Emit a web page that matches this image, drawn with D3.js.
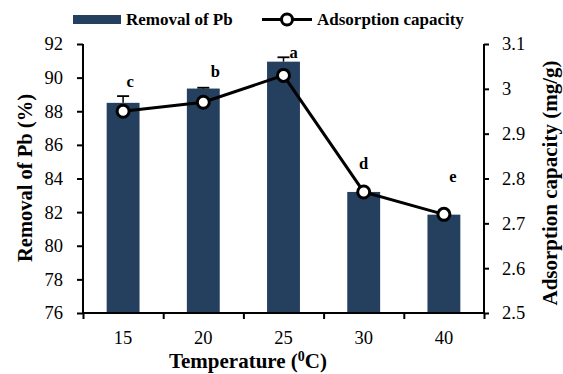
<!DOCTYPE html>
<html><head><meta charset="utf-8">
<script src="https://cdn.jsdelivr.net/npm/d3@7"></script>
<style>body{margin:0;background:#fff}svg{display:block}</style>
</head><body><svg id="c" width="563" height="374"></svg>
<script>
const categories = ["15","20","25","30","40"];
const removal = [88.5, 89.35, 90.95, 83.2, 81.85];
const removalErr = [0.4, 0.05, 0.26, 0, 0];
const capacity = [2.95, 2.97, 3.03, 2.77, 2.72];
const letters = ["c","b","a","d","e"];
const leftTicks = [76,78,80,82,84,86,88,90,92];
const rightTicks = [2.5,2.6,2.7,2.8,2.9,3.0,3.1];

const svg = d3.select("#c");
const L = 83, R = 484, T = 44, B = 313;
const x = d3.scaleBand().domain(categories).range([L, R]).paddingInner(0).paddingOuter(0);
const yL = d3.scaleLinear().domain([76, 92]).range([B, T]);
const yR = d3.scaleLinear().domain([2.5, 3.1]).range([B, T]);
const barW = x.bandwidth() * 0.41;
const col = "#253F5F";

svg.selectAll("rect.bar").data(removal).join("rect").attr("class","bar")
  .attr("x",(d,i)=>x(categories[i]) + x.bandwidth()/2 - barW/2)
  .attr("width",barW)
  .attr("y",d=>yL(d)).attr("height",d=>B - yL(d)).attr("fill",col);

removal.forEach((d,i)=>{
  if(!removalErr[i]) return;
  const cx = x(categories[i]) + x.bandwidth()/2;
  svg.append("line").attr("x1",cx).attr("x2",cx).attr("y1",yL(d)).attr("y2",yL(d+removalErr[i])).attr("stroke","#000").attr("stroke-width",1.5);
  svg.append("line").attr("x1",cx-6).attr("x2",cx+6).attr("y1",yL(d+removalErr[i])).attr("y2",yL(d+removalErr[i])).attr("stroke","#000").attr("stroke-width",1.8);
});

const axL = d3.axisLeft(yL).tickValues(leftTicks).tickSize(6).tickPadding(14).tickFormat(d3.format("d"));
const gL = svg.append("g").attr("transform",`translate(${L},0)`).call(axL);
const axR = d3.axisRight(yR).tickValues(rightTicks).tickSize(5).tickPadding(13).tickFormat(d=> d===3?"3":d3.format(".1f")(d));
const gR = svg.append("g").attr("transform",`translate(${R},0)`).call(axR);
const xb = d3.scaleLinear().domain([0,5]).range([L,R]);
const axB = d3.axisBottom(xb).tickValues([0,1,2,3,4,5]).tickSize(6).tickFormat("");
const gB = svg.append("g").attr("transform",`translate(0,${B})`).call(axB);
[gL,gR,gB].forEach(g=>{
  g.attr("font-size",null).attr("font-family",null);
  g.select(".domain").attr("stroke","#000").attr("stroke-width",2);
  g.selectAll(".tick line").attr("stroke","#000").attr("stroke-width",2);
  g.selectAll("text").attr("fill","#000").attr("font-size",18.5);
});
gL.select(".domain").attr("d",`M0,${T}V${B+1}`);
gR.select(".domain").attr("d",`M0,${T}V${B+1}`);
gB.select(".domain").attr("d",`M${L},0H${R}`);
svg.selectAll("text.xl").data(categories).join("text").attr("class","xl")
  .attr("x",d=>x(d)+x.bandwidth()/2).attr("y",344).attr("text-anchor","middle")
  .attr("font-size",18.5).text(d=>d);

const line = d3.line().x((d,i)=>x(categories[i])+x.bandwidth()/2).y(d=>yR(d));
svg.append("path").datum(capacity).attr("d",line).attr("fill","none").attr("stroke","#000").attr("stroke-width",3);
svg.selectAll("circle.pt").data(capacity).join("circle").attr("class","pt")
  .attr("cx",(d,i)=>x(categories[i])+x.bandwidth()/2).attr("cy",d=>yR(d)).attr("r",6)
  .attr("fill","#fff").attr("stroke","#000").attr("stroke-width",3);

const letterDx = [7, 12, 10, 0, 9];
const letterY = [82, 72, 53, 164, 177];
letters.forEach((t,i)=>{
  svg.append("text").attr("x",x(categories[i])+x.bandwidth()/2+letterDx[i]).attr("y",letterY[i]+5)
    .attr("text-anchor","middle").attr("font-size",16.5).attr("font-weight","bold").text(t);
});

svg.append("text").attr("x",248).attr("y",368).attr("text-anchor","middle")
  .attr("font-size",21).attr("font-weight","bold")
  .html('Temperature (<tspan baseline-shift="super" font-size="14">0</tspan>C)');
svg.append("text").attr("transform","translate(32,178) rotate(-90)").attr("text-anchor","middle")
  .attr("font-size",20.5).attr("font-weight","bold").text("Removal of Pb (%)");
svg.append("text").attr("transform","translate(557,183) rotate(-90)").attr("text-anchor","middle")
  .attr("font-size",21).attr("font-weight","bold").text("Adsorption capacity (mg/g)");

svg.append("rect").attr("x",73).attr("y",15).attr("width",48).attr("height",9).attr("fill",col);
svg.append("text").attr("x",126).attr("y",25).attr("font-size",17).attr("font-weight","bold").text("Removal of Pb");
svg.append("line").attr("x1",262).attr("x2",312).attr("y1",19.5).attr("y2",19.5).attr("stroke","#000").attr("stroke-width",3);
svg.append("circle").attr("cx",287).attr("cy",19.5).attr("r",5.5).attr("fill","#fff").attr("stroke","#000").attr("stroke-width",3);
svg.append("text").attr("x",317).attr("y",25).attr("font-size",17).attr("font-weight","bold").text("Adsorption capacity");

svg.selectAll("text").attr("font-family","Liberation Serif");
</script></body></html>
